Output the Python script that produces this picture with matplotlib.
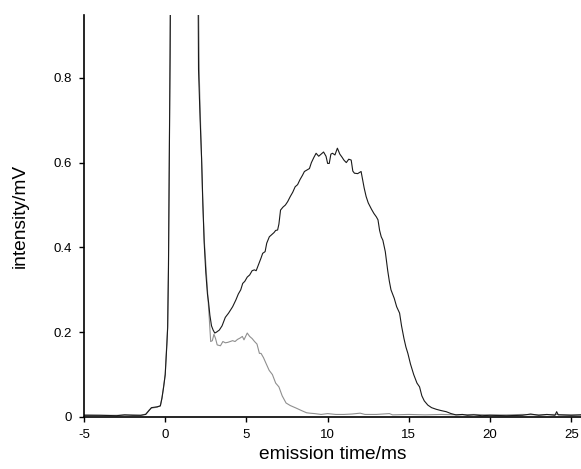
import matplotlib
matplotlib.use("Agg")
import matplotlib.pyplot as plt

plt.rcParams['font.family'] = ['Liberation Sans', 'DejaVu Sans']

# emission time (ms) and intensity (mV) for the dark trace
t_dark = [-5.0, -4.0, -3.0, -2.5, -2.0, -1.5, -1.2, -1.0, -0.85, -0.5, -0.3, -0.2, -0.1, 0.0,
          0.05, 0.1, 0.15, 0.2, 0.25, 0.3, 0.35, 0.45, 1.9, 2.0, 2.05, 2.15, 2.24, 2.32, 2.4,
          2.5, 2.6, 2.67, 2.75, 2.85, 2.95, 3.05, 3.15, 3.33, 3.5, 3.7, 3.9, 4.15, 4.35, 4.5,
          4.65, 4.77, 4.9, 5.05, 5.2, 5.35, 5.49, 5.6, 5.75, 5.9, 6.0, 6.15, 6.25, 6.41, 6.55,
          6.7, 6.8, 6.92, 7.0, 7.1, 7.25, 7.4, 7.54, 7.7, 7.85, 8.0, 8.15, 8.3, 8.45, 8.57, 8.7,
          8.88, 9.0, 9.15, 9.29, 9.45, 9.6, 9.75, 9.9, 10.0, 10.1, 10.2, 10.3, 10.45, 10.6,
          10.75, 10.9, 11.0, 11.15, 11.3, 11.45, 11.55, 11.65, 11.85, 12.06, 12.15, 12.25,
          12.37, 12.5, 12.7, 12.85, 13.0, 13.1, 13.2, 13.3, 13.4, 13.55, 13.7, 13.8, 13.9,
          14.1, 14.25, 14.43, 14.55, 14.7, 14.82, 14.94, 15.1, 15.3, 15.5, 15.66, 15.8, 15.95,
          16.17, 16.4, 16.7, 17.0, 17.3, 17.6, 17.9, 18.3, 18.6, 19.0, 19.5, 20.0, 21.0, 22.0,
          22.5, 23.0, 23.5, 24.0, 24.1, 24.2, 25.0, 25.6]
v_dark = [0.004, 0.004, 0.003, 0.005, 0.004, 0.004, 0.006, 0.015, 0.022, 0.024, 0.026, 0.045,
          0.07, 0.10, 0.135, 0.17, 0.21, 0.35, 0.6, 0.85, 1.2, 1.5, 1.5, 1.2, 0.82, 0.7, 0.61,
          0.5, 0.41, 0.34, 0.29, 0.27, 0.24, 0.215, 0.205, 0.198, 0.2, 0.205, 0.215, 0.235,
          0.245, 0.26, 0.276, 0.29, 0.3, 0.315, 0.32, 0.33, 0.335, 0.345, 0.347, 0.345, 0.36,
          0.375, 0.386, 0.39, 0.41, 0.425, 0.43, 0.435, 0.44, 0.441, 0.455, 0.488, 0.495, 0.5,
          0.508, 0.52, 0.53, 0.543, 0.548, 0.56, 0.57, 0.579, 0.582, 0.586, 0.6, 0.612, 0.622,
          0.615, 0.62, 0.625, 0.615, 0.598, 0.598, 0.62, 0.622, 0.618, 0.634, 0.62, 0.612,
          0.606, 0.6, 0.608, 0.606, 0.58, 0.575, 0.574, 0.579, 0.56, 0.54, 0.52, 0.505, 0.49,
          0.48, 0.472, 0.465, 0.44, 0.425, 0.417, 0.39, 0.345, 0.32, 0.3, 0.28, 0.26, 0.245,
          0.215, 0.185, 0.165, 0.15, 0.125, 0.1, 0.08, 0.071, 0.05, 0.038, 0.028, 0.022, 0.018,
          0.015, 0.0125, 0.008, 0.005, 0.006, 0.004, 0.005, 0.003, 0.004, 0.003, 0.004, 0.007,
          0.004, 0.006, 0.004, 0.0125, 0.005, 0.004, 0.005]

# light trace
t_light = [-5.0, -4.0, -3.0, -2.0, -1.5, -1.2, -1.0, -0.85, -0.5, -0.3, -0.2, -0.1, 0.0, 0.05,
           0.1, 0.15, 0.2, 0.25, 0.3, 0.35, 0.45, 1.9, 1.99, 2.1, 2.2, 2.3, 2.4, 2.5, 2.6, 2.7,
           2.8, 2.9, 3.0, 3.1, 3.2, 3.4, 3.55, 3.7, 3.85, 4.0, 4.15, 4.3, 4.45, 4.6, 4.75, 4.85,
           5.05, 5.2, 5.35, 5.5, 5.65, 5.8, 5.9, 6.05, 6.2, 6.4, 6.6, 6.8, 7.0, 7.2, 7.44, 7.7,
           8.06, 8.4, 8.7, 8.9, 9.2, 9.6, 10.0, 10.5, 11.0, 11.5, 12.0, 12.3, 13.0, 13.8, 14.0,
           15.0, 16.0, 17.0, 18.0, 19.0, 20.0, 21.0, 22.0, 23.0, 24.0, 25.0, 25.6]
v_light = [0.005, 0.004, 0.004, 0.005, 0.004, 0.007, 0.016, 0.021, 0.023, 0.027, 0.044, 0.072,
           0.10, 0.14, 0.175, 0.215, 0.36, 0.62, 0.87, 1.2, 1.5, 1.5, 1.2, 0.8, 0.66, 0.52,
           0.42, 0.36, 0.3, 0.24, 0.178, 0.18, 0.195, 0.185, 0.17, 0.168, 0.178, 0.175, 0.176,
           0.178, 0.18, 0.178, 0.183, 0.186, 0.19, 0.182, 0.198, 0.19, 0.185, 0.178, 0.172,
           0.15, 0.15, 0.14, 0.127, 0.11, 0.1, 0.08, 0.071, 0.05, 0.033, 0.027, 0.021, 0.015,
           0.01, 0.009, 0.008, 0.006, 0.008, 0.006, 0.006, 0.007, 0.009, 0.006, 0.006, 0.008,
           0.005, 0.006, 0.005, 0.006, 0.005, 0.006, 0.005, 0.005, 0.006, 0.005, 0.006, 0.005,
           0.005]

x_ticks = [-5, 0, 5, 10, 15, 20, 25]
y_ticks = [0, 0.2, 0.4, 0.6, 0.8]
y_tick_labels = ['0', '0.2', '0.4', '0.6', '0.8']

fig = plt.figure(figsize=(5.81, 4.69), dpi=100)
ax = fig.add_axes([0.1446, 0.1109, 0.8554, 0.857])

ax.plot(t_light, v_light, color='#8f8f8f', lw=0.8)
ax.plot(t_dark, v_dark, color='#1a1a1a', lw=0.8)

ax.set_xlim(-5, 25.6)
ax.set_ylim(0, 0.948)
ax.set_xticks(x_ticks)
ax.set_xticklabels([str(v) for v in x_ticks])
ax.set_yticks(y_ticks)
ax.set_yticklabels(y_tick_labels)

for s in ['top', 'right']:
    ax.spines[s].set_visible(False)
for s in ['left', 'bottom']:
    ax.spines[s].set_linewidth(1.2)
ax.tick_params(direction='out', length=3.6, width=1, labelsize=9.5, pad=5)

ax.set_xlabel('emission time/ms', fontsize=13.8, labelpad=4)
ax.set_ylabel('intensity/mV', fontsize=13.8, labelpad=18)

fig.savefig('out.png', dpi=100)
